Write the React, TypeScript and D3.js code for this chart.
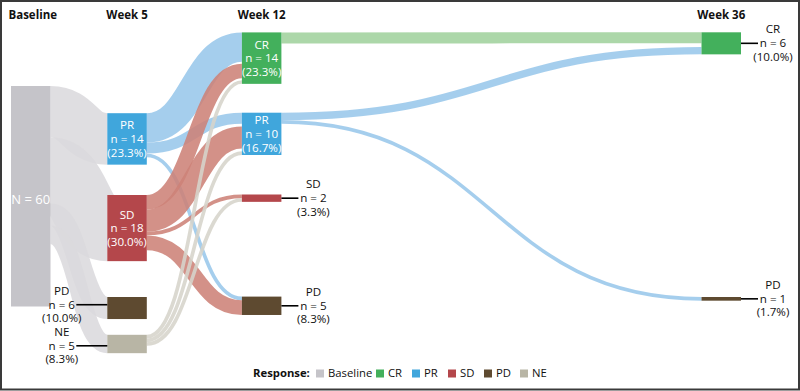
import React from "react";
import * as d3 from "d3";

// ---------- data ----------
const columnLabels = ["Baseline", "Week 5", "Week 12", "Week 36"];
const responseCategories = ["Baseline", "CR", "PR", "SD", "PD", "NE"];
const responseColors = ["#c5c4c9", "#43b05c", "#40a6dc", "#b4474b", "#5e4a30", "#b8b5a5"];
const linkColors = ["#dbdadd", "#a1d19d", "#98c7ea", "#cd8277", "#a89a88", "#d6d4cb"];

const nodeColumn = [0, 1, 1, 1, 1, 2, 2, 2, 2, 3, 3];
const nodeResponse = ["Baseline", "PR", "SD", "PD", "NE", "CR", "PR", "SD", "PD", "CR", "PD"];
const nodeN = [60, 14, 18, 6, 5, 14, 10, 2, 5, 6, 1];
const nodePct = ["", "23.3%", "30.0%", "10.0%", "8.3%", "23.3%", "16.7%", "3.3%", "8.3%", "10.0%", "1.7%"];

const linkSource = [0, 0, 0, 0, 1, 1, 1, 2, 2, 2, 2, 4, 4, 4, 5, 6, 6];
const linkTarget = [1, 2, 3, 4, 5, 6, 8, 5, 6, 7, 8, 5, 6, 7, 9, 9, 10];
const linkValue = [14, 18, 6, 5, 8, 3, 1, 4, 6, 1, 4, 1, 1, 1, 3, 2, 1];

// ---------- layout ----------
const W = 800;
const H = 391;
const columnX = [11, 107.3, 241.9, 701.5];
const nodeWidth = 39.5;
const nodeTop = [86, 113.2, 195, 297, 334.8, 32.4, 112.7, 194.5, 296.6, 32.3, 297];
const labelNudge = [0, 0, 0, -3.3, 1.8, 0, 0, 0, 0, 0, 0];
const minInsideHeight = 42.3;
const legendX = [316, 376, 412, 448, 484, 520];
const FONT = "'Open Sans', Lato, sans-serif";

export default function App() {
  const k = d3.scaleLinear().domain([0, 60]).range([0, 220.5]);

  const nodes = nodeN.map((n, i) => {
    const inside = k(n) >= 30;
    const h = inside ? Math.max(k(n), nodeResponse[i] === "Baseline" ? 0 : minInsideHeight) : k(n);
    const x0 = columnX[nodeColumn[i]];
    return {
      i,
      n,
      inside,
      x0,
      x1: x0 + nodeWidth,
      y0: nodeTop[i],
      y1: nodeTop[i] + h,
      color: responseColors[responseCategories.indexOf(nodeResponse[i])],
    };
  });

  // stack outgoing links from top of source
  const outOffset = nodes.map(() => 0);
  const links = linkValue.map((v, li) => {
    const s = nodes[linkSource[li]];
    const w = k(v);
    const sy = s.y0 + outOffset[s.i] + w / 2;
    outOffset[s.i] += w;
    return { li, v, w, s, t: nodes[linkTarget[li]], sy, ty: 0 };
  });
  // spread incoming links across target height
  nodes.forEach((nd) => {
    const inc = links.filter((l) => l.t.i === nd.i);
    if (!inc.length) return;
    const total = d3.sum(inc, (l) => l.w);
    const spare = Math.max(0, nd.y1 - nd.y0 - total);
    const gap = inc.length > 1 ? spare / (inc.length - 1) : 0;
    let y = nd.y0;
    inc.forEach((l) => {
      l.ty = y + l.w / 2;
      y += l.w + gap;
    });
  });

  const linkGen = d3
    .linkHorizontal<any, [number, number]>()
    .source((d: any) => d[0])
    .target((d: any) => d[1]);

  return (
    <svg
      width={W}
      height={H}
      style={{ position: "fixed", left: 0, top: 0, background: "#fff" }}
      fontFamily={FONT}
    >
      <rect x={1} y={1} width={W - 2} height={H - 2.5} fill="#fff" stroke="#3a3a3a" strokeWidth={2} />

      {columnLabels.map((c, ci) => (
        <text
          key={c}
          x={columnX[ci] + nodeWidth / 2 + (ci === 0 ? 2 : 0)}
          y={19}
          textAnchor="middle"
          fontWeight="bold"
          fontSize={11.5}
          fill="#111"
        >
          {c}
        </text>
      ))}

      <g>
        {links.map((l) => (
          <path
            key={l.li}
            d={linkGen([
              [l.s.x1, l.sy],
              [l.t.x0, l.ty],
            ] as any) as string}
            fill="none"
            stroke={linkColors[responseCategories.indexOf(nodeResponse[l.s.i])]}
            strokeOpacity={0.88}
            strokeWidth={l.w}
          />
        ))}
      </g>

      <g>
        {nodes.map((nd) => (
          <rect
            key={nd.i}
            x={nd.x0}
            y={nd.y0}
            width={nodeWidth}
            height={nd.y1 - nd.y0}
            fill={nd.color}
          />
        ))}
      </g>

      <g fontSize={11.6}>
        {nodes.map((nd) => {
          const cy = (nd.y0 + nd.y1) / 2;
          const cx = (nd.x0 + nd.x1) / 2;
          const resp = nodeResponse[nd.i];
          if (resp === "Baseline") {
            return (
              <text key={nd.i} x={cx} y={cy + 7.5} textAnchor="middle" fill="#fff" fontSize={13}>
                {`N = ${nd.n}`}
              </text>
            );
          }
          const lines = [resp, `n = ${nd.n}`, `(${nodePct[nd.i]})`];
          if (nd.inside) {
            return (
              <g key={nd.i}>
                {lines.map((t, j) => (
                  <text key={j} x={cx} y={cy + 4.2 + (j - 1) * 13.7} textAnchor="middle" fill="#fff">
                    {t}
                  </text>
                ))}
              </g>
            );
          }
          const left = nodeColumn[nd.i] === 1;
          const tx = left ? nd.x0 - 45.5 : nd.x1 + 32;
          const ly = cy + labelNudge[nd.i];
          return (
            <g key={nd.i}>
              <line
                x1={left ? nd.x0 - 31 : nd.x1}
                x2={left ? nd.x0 : nd.x1 + 17}
                y1={ly}
                y2={ly}
                stroke="#000"
                strokeWidth={1.6}
              />
              {lines.map((t, j) => (
                <text key={j} x={tx} y={ly + 3.8 + (j - 1) * 13.7} textAnchor="middle" fill="#111">
                  {t}
                </text>
              ))}
            </g>
          );
        })}
      </g>

      <g fontSize={11.3}>
        <text x={253} y={377} fontWeight="bold" fill="#111">
          Response:
        </text>
        {responseCategories.map((c, ci) => (
          <g key={c}>
            <rect x={legendX[ci]} y={369.5} width={8} height={8} fill={responseColors[ci]} />
            <text x={legendX[ci] + 12} y={377} fill="#111">
              {c}
            </text>
          </g>
        ))}
      </g>
    </svg>
  );
}
